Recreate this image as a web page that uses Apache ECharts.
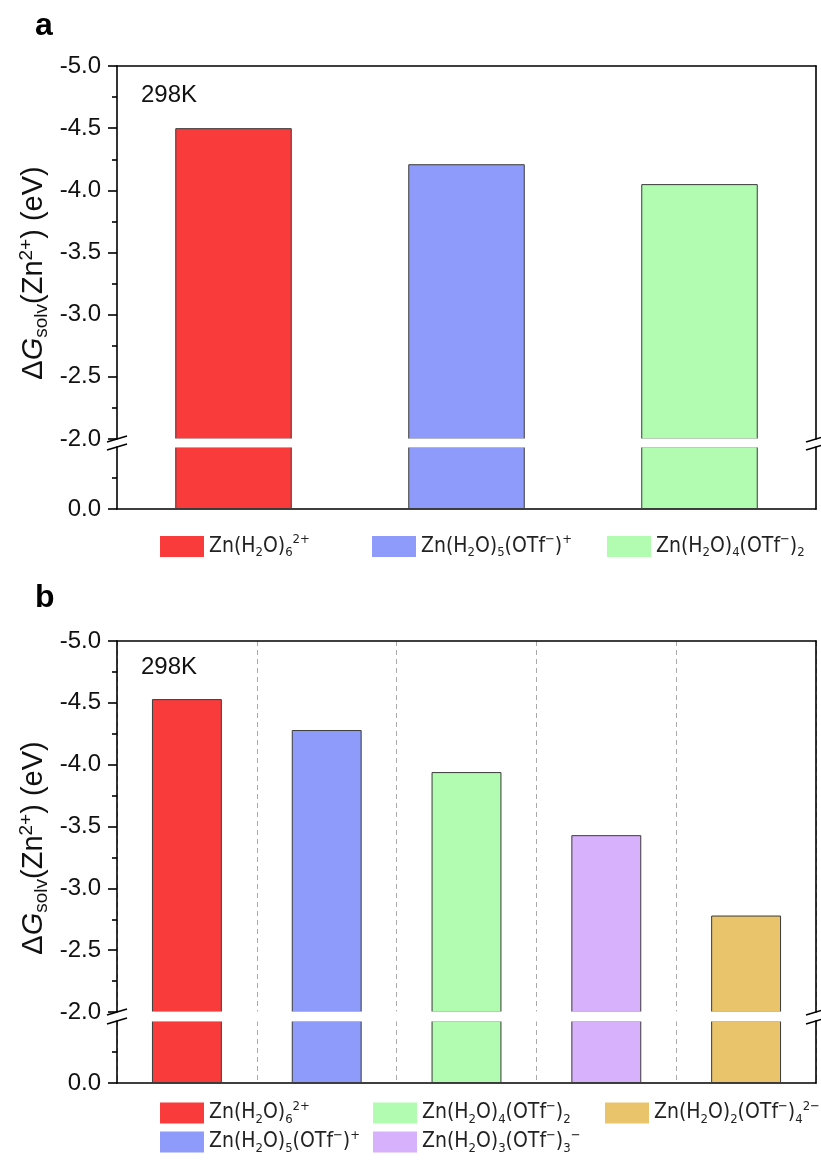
<!DOCTYPE html>
<html>
<head>
<meta charset="utf-8">
<script src="https://cdn.jsdelivr.net/npm/echarts@6/dist/echarts.min.js"></script>
<style>
  html, body { margin: 0; padding: 0; background: #fff; }
  #chart { width: 821px; height: 1160px; }
</style>
</head>
<body>
<div id="chart"></div>
<script>
// Solvation free energy of Zn2+ in different solvation structures, 298 K (eV)
const speciesKeys = ['h6', 'h5', 'h4', 'h3', 'h2'];
const speciesLabels = [
  '{t|Zn(H}{sub|2}{t|O)}{sub|6}{sup|2+}',
  '{t|Zn(H}{sub|2}{t|O)}{sub|5}{t|(OTf}{sup|−}{t|)}{sup|+}',
  '{t|Zn(H}{sub|2}{t|O)}{sub|4}{t|(OTf}{sup|−}{t|)}{sub|2}',
  '{t|Zn(H}{sub|2}{t|O)}{sub|3}{t|(OTf}{sup|−}{t|)}{sub|3}{sup|−}',
  '{t|Zn(H}{sub|2}{t|O)}{sub|2}{t|(OTf}{sup|−}{t|)}{sub|4}{sup|2−}'
];

const panelASpecies = ['h6', 'h5', 'h4'];
const panelAValues = [-4.50, -4.21, -4.05];

const panelBSpecies = ['h6', 'h5', 'h4', 'h3', 'h2'];
const panelBValues = [-4.53, -4.28, -3.94, -3.43, -2.78];

// broken value axis: upper segment and lower segment
const upperRange = [-5.0, -2.0];
const lowerRange = [-0.5, 0.0];
const tickStep = 0.5;
const lowerTickLabels = [0.0];

const temperatureLabel = '298K';
const yTitle = '{t|Δ}{it|G}{sub|solv}{t|(Zn}{sup|2+}{t|) (eV)}';

// styling
const speciesColors = {
  h6: '#FA3B3B',
  h5: '#8E9BFB',
  h4: '#B1FCB0',
  h3: '#D7B1FB',
  h2: '#E9C46B'
};
const FONT = 'Arial, "Liberation Sans", sans-serif';
const LEGEND_FONT = '"Liberation Sans Narrow", "Arial Narrow", "DejaVu Sans Condensed", Arial, sans-serif';
const INK = '#111';
const PLOT_LEFT = 117;
const PLOT_RIGHT = 816;
const CHART_W = 821;

const panels = [
  {
    tag: 'a', species: panelASpecies, values: panelAValues,
    top: 66, breakTop: 439, breakBottom: 447, bottom: 509, dashed: false,
    tagY: 26, tempY: 95,
    legend: [
      { key: 'h6', x: 160, y: 546.5 },
      { key: 'h5', x: 372, y: 546.5 },
      { key: 'h4', x: 607, y: 546.5 }
    ]
  },
  {
    tag: 'b', species: panelBSpecies, values: panelBValues,
    top: 641, breakTop: 1012, breakBottom: 1021, bottom: 1083, dashed: true,
    tagY: 598, tempY: 667,
    legend: [
      { key: 'h6', x: 160, y: 1113 },
      { key: 'h4', x: 373, y: 1113 },
      { key: 'h2', x: 605, y: 1113 },
      { key: 'h5', x: 160, y: 1142 },
      { key: 'h3', x: 373, y: 1142 }
    ]
  }
];

const axisLineStyle = { color: '#000', width: 1.6 };

const grid = [];
const xAxis = [];
const yAxis = [];
const series = [];
const legend = [];
const graphic = [];

const legendRich = {
  t: { fontFamily: LEGEND_FONT, fontSize: 21, lineHeight: 26, color: '#222' },
  sub: { fontFamily: LEGEND_FONT, fontSize: 13, lineHeight: 12, verticalAlign: 'bottom', color: '#222' },
  sup: { fontFamily: LEGEND_FONT, fontSize: 13, lineHeight: 12, verticalAlign: 'top', color: '#222' }
};

function labelOf(key) {
  return speciesLabels[speciesKeys.indexOf(key)];
}

panels.forEach(function (p) {
  const segments = [
    { top: p.top, height: p.breakTop - p.top, range: upperRange, upper: true },
    { top: p.breakBottom, height: p.bottom - p.breakBottom, range: lowerRange, upper: false }
  ];
  segments.forEach(function (seg) {
    const g = grid.length;
    grid.push({ left: PLOT_LEFT, right: CHART_W - PLOT_RIGHT, top: seg.top, height: seg.height });

    xAxis.push({
      gridIndex: g,
      type: 'category',
      data: p.species,
      position: seg.upper ? 'top' : 'bottom',
      axisLine: { show: true, onZero: false, lineStyle: axisLineStyle },
      axisTick: { show: false },
      axisLabel: { show: false },
      splitLine: {
        show: p.dashed,
        interval: 0,
        lineStyle: { color: '#aaa', width: 1, type: [5, 4] }
      }
    });

    const mainAxis = {
      gridIndex: g,
      type: 'value',
      min: seg.range[0],
      max: seg.range[1],
      interval: tickStep,
      inverse: true,
      position: 'left',
      axisLine: { show: true, onZero: false, lineStyle: axisLineStyle },
      axisTick: { show: true, inside: false, length: 9, lineStyle: axisLineStyle },
      minorTick: { show: true, splitNumber: 2, length: 5, lineStyle: axisLineStyle },
      splitLine: { show: false },
      axisLabel: {
        fontFamily: FONT,
        fontSize: 24,
        color: INK,
        margin: 16,
        formatter: function (v) { return (Math.abs(v) < 1e-9 ? 0 : v).toFixed(1); }
      }
    };
    if (!seg.upper) {
      mainAxis.axisLabel.customValues = lowerTickLabels;
      mainAxis.axisTick.customValues = lowerTickLabels;
    }
    yAxis.push(mainAxis);
    yAxis.push({
      gridIndex: g,
      type: 'value',
      min: seg.range[0],
      max: seg.range[1],
      inverse: true,
      position: 'right',
      axisLine: { show: true, onZero: false, lineStyle: axisLineStyle },
      axisTick: { show: false },
      axisLabel: { show: false },
      splitLine: { show: false }
    });

    p.species.forEach(function (key, i) {
      series.push({
        type: 'bar',
        name: key,
        xAxisIndex: g,
        yAxisIndex: 2 * g,
        data: p.species.map(function (_, j) { return j === i ? p.values[i] : '-'; }),
        barWidth: '50%',
        barGap: '-100%',
        clip: true,
        silent: true,
        itemStyle: { color: speciesColors[key], borderColor: '#3a3a3a', borderWidth: 1 }
      });
    });
  });

  // legend entries, one per swatch position
  p.legend.forEach(function (it) {
    legend.push({
      data: [it.key],
      left: it.x,
      top: it.y - 13,
      padding: 0,
      icon: 'rect',
      itemWidth: 44,
      itemHeight: 21,
      itemGap: 0,
      selectedMode: false,
      itemStyle: { borderWidth: 0 },
      formatter: function (name) { return labelOf(name); },
      textStyle: { fontFamily: LEGEND_FONT, fontSize: 21, color: '#222', rich: legendRich }
    });
  });

  // panel tag
  graphic.push({
    type: 'text', x: 35, y: p.tagY,
    style: { text: p.tag, font: 'bold 32px ' + FONT, fill: '#000', verticalAlign: 'middle' }
  });
  // temperature note
  graphic.push({
    type: 'text', x: 141, y: p.tempY,
    style: { text: temperatureLabel, font: '24px ' + FONT, fill: INK, verticalAlign: 'middle' }
  });
  // y axis title
  graphic.push({
    type: 'text', x: 34, y: p.top + 207, rotation: Math.PI / 2,
    style: {
      text: yTitle,
      align: 'center',
      verticalAlign: 'middle',
      fill: INK,
      font: '29px ' + FONT,
      rich: {
        t: { fontFamily: FONT, fontSize: 29, lineHeight: 34, fill: INK },
        it: { fontFamily: FONT, fontSize: 29, fontStyle: 'italic', lineHeight: 34, fill: INK },
        sub: { fontFamily: FONT, fontSize: 19, lineHeight: 16, verticalAlign: 'bottom', fill: INK },
        sup: { fontFamily: FONT, fontSize: 19, lineHeight: 16, verticalAlign: 'top', fill: INK }
      }
    }
  });
  // white band across the plot where the value axis is broken
  graphic.push({
    type: 'rect',
    shape: {
      x: PLOT_LEFT + 1,
      y: p.breakTop - 0.5,
      width: PLOT_RIGHT - PLOT_LEFT - 2,
      height: p.breakBottom - p.breakTop + 1
    },
    style: { fill: '#fff' },
    z: 50
  });
  // axis break marks on both vertical frame lines
  [PLOT_LEFT, PLOT_RIGHT].forEach(function (x) {
    [p.breakTop, p.breakBottom].forEach(function (y) {
      graphic.push({
        type: 'line',
        shape: { x1: x - 10, y1: y + 3, x2: x + 10, y2: y - 3 },
        style: { stroke: '#000', lineWidth: 1.6 },
        z: 100
      });
    });
  });
});

const chart = echarts.init(document.getElementById('chart'), null, { renderer: 'canvas' });
chart.setOption({
  animation: false,
  backgroundColor: '#fff',
  grid: grid,
  xAxis: xAxis,
  yAxis: yAxis,
  series: series,
  legend: legend,
  graphic: graphic
});
</script>
</body>
</html>
